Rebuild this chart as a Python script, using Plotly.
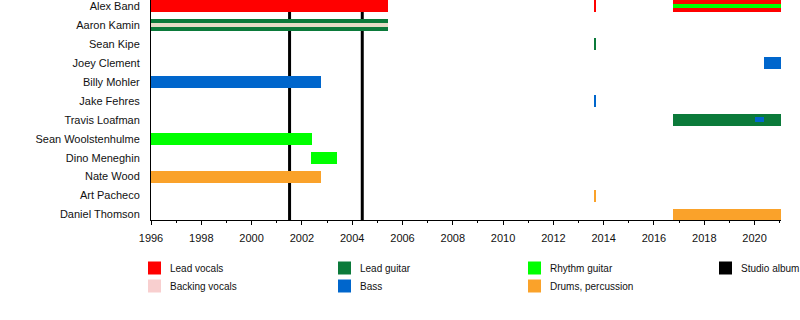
import plotly.graph_objects as go

# ---------------- data ----------------
members = ["Alex Band", "Aaron Kamin", "Sean Kipe", "Joey Clement", "Billy Mohler",
           "Jake Fehres", "Travis Loafman", "Sean Woolstenhulme", "Dino Meneghin",
           "Nate Wood", "Art Pacheco", "Daniel Thomson"]

END = 2021.05

# full-height bars
lead_vocals_member = ["Alex Band", "Alex Band", "Alex Band"]
lead_vocals_start = [1996.0, 2013.62, 2016.74]
lead_vocals_end = [2005.44, 2013.67, END]

lead_guitar_member = ["Aaron Kamin", "Sean Kipe", "Travis Loafman"]
lead_guitar_start = [1996.0, 2013.62, 2016.74]
lead_guitar_end = [2005.44, 2013.67, END]

bass_member = ["Joey Clement", "Billy Mohler", "Jake Fehres"]
bass_start = [2020.37, 1996.0, 2013.62]
bass_end = [END, 2002.77, 2013.67]

rhythm_member = ["Sean Woolstenhulme", "Dino Meneghin"]
rhythm_start = [1996.0, 2002.38]
rhythm_end = [2002.41, 2003.41]

drums_member = ["Nate Wood", "Art Pacheco", "Daniel Thomson"]
drums_start = [1996.0, 2013.62, 2016.74]
drums_end = [2002.77, 2013.67, END]

# thin stripes inside bars
backing_member = ["Aaron Kamin"]
backing_start = [1996.0]
backing_end = [2005.44]

rhythm_stripe_member = ["Alex Band"]
rhythm_stripe_start = [2016.74]
rhythm_stripe_end = [END]

bass_stripe_member = ["Travis Loafman"]
bass_stripe_start = [2020.0]
bass_stripe_end = [2020.37]

studio_albums = [2001.51, 2004.40]

major_years = [1996, 1998, 2000, 2002, 2004, 2006, 2008, 2010, 2012, 2014, 2016, 2018, 2020]
major_labels = [str(y) for y in major_years]
minor_years = list(range(1996, 2022))

legend_labels = ["Lead vocals", "Backing vocals", "Lead guitar", "Bass",
                 "Rhythm guitar", "Drums, percussion", "Studio album"]

# ---------------- styles ----------------
C = {
    "Lead vocals": "#FF0000",
    "Backing vocals": "#F8CFCF",
    "Lead guitar": "#0B7A3A",
    "Bass": "#0066CC",
    "Rhythm guitar": "#00FF00",
    "Drums, percussion": "#FAA22A",
    "Studio album": "#000000",
}
FONT = "Liberation Sans, Arial, sans-serif"
BAR_W = 0.633
STRIPE_W = 0.24

fig = go.Figure()


def add_bars(mem, start, end, color, width):
    fig.add_trace(go.Bar(
        orientation="h",
        y=mem,
        base=start,
        x=[e - s for s, e in zip(start, end)],
        width=[width] * len(mem),
        marker=dict(color=color, line=dict(width=0)),
        showlegend=False,
        hoverinfo="skip",
    ))


add_bars(lead_vocals_member, lead_vocals_start, lead_vocals_end, C["Lead vocals"], BAR_W)
add_bars(lead_guitar_member, lead_guitar_start, lead_guitar_end, C["Lead guitar"], BAR_W)
add_bars(bass_member, bass_start, bass_end, C["Bass"], BAR_W)
add_bars(rhythm_member, rhythm_start, rhythm_end, C["Rhythm guitar"], BAR_W)
add_bars(drums_member, drums_start, drums_end, C["Drums, percussion"], BAR_W)
add_bars(backing_member, backing_start, backing_end, "#E6DCC6", STRIPE_W)
add_bars(rhythm_stripe_member, rhythm_stripe_start, rhythm_stripe_end, C["Rhythm guitar"], STRIPE_W)
add_bars(bass_stripe_member, bass_stripe_start, bass_stripe_end, C["Bass"], STRIPE_W)

for d in studio_albums:
    fig.add_shape(type="line", xref="x", yref="paper", x0=d, x1=d, y0=0, y1=1,
                  line=dict(color="black", width=3), layer="below")

# ---------------- manual legend (pixel -> paper) ----------------
L, R_, T, H = 151, 19, 0, 220
W = 800 - L - R_


def px2x(px):
    return (px - L) / W


def py2y(py):
    return 1 - (py - T) / H


col_x = [148, 338, 528, 719]
row_y = [268, 286]
positions = [(0, 0), (0, 1), (1, 0), (1, 1), (2, 0), (2, 1), (3, 0)]
for lab, (c, r) in zip(legend_labels, positions):
    x0 = col_x[c]
    yc = row_y[r]
    fig.add_shape(type="rect", xref="paper", yref="paper",
                  x0=px2x(x0), x1=px2x(x0 + 13), y0=py2y(yc + 6.5), y1=py2y(yc - 6.5),
                  fillcolor=C[lab], line=dict(width=0))
    fig.add_annotation(xref="paper", yref="paper", x=px2x(x0 + 20), y=py2y(yc),
                       text=lab, showarrow=False, xanchor="left", yanchor="middle",
                       font=dict(family=FONT, size=10, color="#111"))

fig.update_layout(
    width=800, height=320,
    margin=dict(l=L, r=R_, t=T, b=100, pad=0),
    paper_bgcolor="white", plot_bgcolor="white",
    barmode="overlay",
    bargap=0,
    font=dict(family=FONT, size=11, color="#111"),
    xaxis=dict(
        range=[1996, END],
        tickmode="array", tickvals=major_years, ticktext=major_labels,
        ticks="outside", ticklen=4, tickwidth=1, tickcolor="black",
        minor=dict(tickmode="array", tickvals=minor_years, ticks="outside",
                   ticklen=2, tickwidth=1, tickcolor="black"),
        showline=True, linecolor="black", linewidth=1,
        showgrid=False, zeroline=False,
        ticklabelstandoff=4,
        tickfont=dict(family=FONT, size=11, color="#111"),
    ),
    yaxis=dict(
        type="category",
        categoryorder="array", categoryarray=members,
        range=[11.29, -0.32],
        showline=True, linecolor="black", linewidth=1,
        ticks="", showgrid=False, zeroline=False,
        ticklabelstandoff=8,
        tickfont=dict(family=FONT, size=11, color="#111"),
    ),
)

fig.write_html("out.html")
